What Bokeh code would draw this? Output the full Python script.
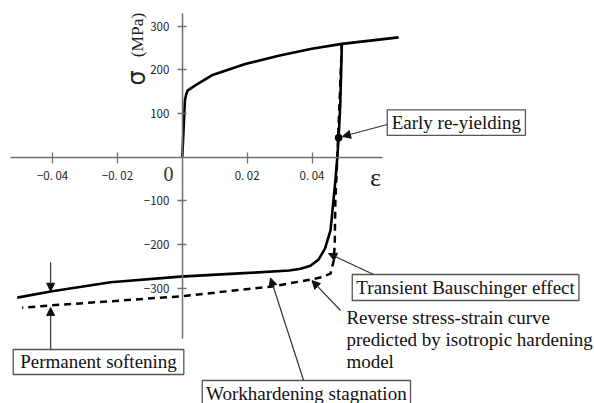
import math
from bokeh.plotting import figure
from bokeh.models import Range1d, FixedTicker, Arrow, NormalHead
from bokeh.core.properties import value
from bokeh.embed import file_html
from bokeh.resources import INLINE

# ---- data (strain, stress in MPa) ----
load_eps = [0.0, 0.0008, 0.0012, 0.0016, 0.0040, 0.0091, 0.0194, 0.0297, 0.0399, 0.0492, 0.0667]
load_sig = [0, 130, 143, 152, 164, 187, 213, 232, 248, 259, 274]

rev_eps = [0.0492, 0.0487, 0.0482, 0.0478, 0.0472, 0.0466, 0.0457, 0.0440, 0.0420,
           0.0395, 0.0365, 0.0330, 0.0190, -0.0006, -0.0221, -0.0406, -0.0509]
rev_sig = [259, 118, 44, 0, -54, -100, -168, -210, -235, -249, -256, -260, -266,
           -274, -287, -308, -322]

iso_eps = [0.0492, 0.0478, 0.0472, 0.0470, 0.0467, 0.0457, 0.0430, 0.0395, 0.0272,
           -0.0006, -0.0406, -0.0494]
iso_sig = [259, 0, -100, -200, -237, -267, -275, -281, -297, -319, -340, -345]

reyield_eps = [0.0482]
reyield_sig = [44]

x_ticks = [-0.04, -0.02, 0.02, 0.04]
x_tick_labels = ["\u22120. 04", "\u22120. 02", "0. 02", "0. 04"]
y_ticks = [-300, -200, -100, 100, 200, 300]
y_tick_labels = ["\u2212300", "\u2212200", "\u2212100", "100", "200", "300"]

W, H = 594, 403
p = figure(width=W, height=H, output_backend="svg", toolbar_location=None,
           x_range=Range1d(-0.05606, 0.12710), y_range=Range1d(-564.5, 358.4),
           min_border=0)
p.grid.visible = False
p.outline_line_color = None
p.background_fill_color = "white"

axis_col = "#707070"
p.xaxis.fixed_location = 0
p.yaxis.fixed_location = 0
p.xaxis.bounds = (-0.053, 0.0617)
p.yaxis.bounds = (-415.6, 328.6)
p.xaxis.ticker = FixedTicker(ticks=x_ticks)
p.yaxis.ticker = FixedTicker(ticks=y_ticks)
p.xaxis.major_label_overrides = {t: l for t, l in zip(x_ticks, x_tick_labels)}
p.yaxis.major_label_overrides = {t: l for t, l in zip(y_ticks, y_tick_labels)}
for ax in (p.xaxis, p.yaxis):
    ax.axis_line_color = axis_col
    ax.axis_line_width = 1.5
    ax.major_tick_line_color = axis_col
    ax.major_tick_line_width = 1.3
    ax.minor_tick_line_color = None
    ax.major_label_text_font = "Noto Sans CJK JP"
    ax.major_label_text_font_size = "11.5px"
    ax.major_label_text_color = "#222222"
p.xaxis.major_tick_in = 5
p.xaxis.major_tick_out = 6
p.xaxis.major_label_standoff = 4
p.yaxis.major_tick_in = 4
p.yaxis.major_tick_out = 5
p.yaxis.major_label_standoff = 8
p.yaxis.major_label_orientation = "horizontal"

# ---- curves ----
p.line(load_eps, load_sig, line_color="black", line_width=2.6, line_join="round")
p.line(iso_eps, iso_sig, line_color="black", line_width=2.5, line_dash="7 5")
p.line(rev_eps, rev_sig, line_color="black", line_width=2.6, line_join="round")
p.scatter(reyield_eps, reyield_sig, size=7, color="black")

serif = value("Liberation Serif")
fs = value("19px")

# ---- axis labels ----
p.text(x=[-0.01397], y=[180.9], text=["\u03c3"], angle=math.pi / 2,
       text_font=value("DejaVu Sans"), text_font_size=value("24px"),
       text_align="center", text_baseline="middle", text_color="#222222")
p.text(x=[-0.01412], y=[279.4], text=["(MPa)"], angle=math.pi / 2,
       text_font=serif, text_font_size=value("17.5px"),
       text_align="center", text_baseline="middle", text_color="#222222")
p.text(x=[0.05957], y=[-45.8], text=["\u03b5"], text_font=serif,
       text_font_size=value("26px"), text_align="center", text_baseline="middle",
       text_color="#222222")
p.text(x=[-0.00426], y=[-38.9], text=["0"], text_font=serif,
       text_font_size=value("20px"), text_align="center", text_baseline="middle",
       text_color="#333333")

# ---- annotation boxes ----
box_l = [0.0632, 0.0524, -0.05214, 0.00614]
box_r = [0.1058, 0.1223, 0.00046, 0.07037]
box_t = [108.1, -269.1, -440.8, -511.8]
box_b = [49.4, -328.6, -498.1, -600.0]
p.quad(left=box_l, right=box_r, top=box_t, bottom=box_b, fill_color="white",
       line_color="#555555", line_width=1.3)

box_text = ["Early re-yielding", "Transient Bauschinger effect",
            "Permanent softening", "Workhardening stagnation"]
tx = [(a + b) / 2 for a, b in zip(box_l, box_r)]
ty = [79.0, -298.8, -469.4, -540.9]
p.text(x=tx, y=ty, text=box_text, text_font=serif, text_font_size=fs,
       text_align="center", text_baseline="middle", text_color="#111111")

rev_lines = ["Reverse stress-strain curve", "predicted by isotropic hardening", "model"]
p.text(x=[0.0506] * 3, y=[-367.5, -417.9, -468.3], text=rev_lines, text_font=serif,
       text_font_size=fs, text_align="left", text_baseline="middle",
       text_color="#111111")

# ---- arrows ----
arrows = [
    (0.0632, 74.4, 0.0494, 47.0),
    (0.0590, -269.0, 0.0451, -221.0),
    (0.0488, -351.5, 0.0400, -283.0),
    (0.0374, -511.8, 0.0272, -277.0),
    (-0.0406, -240.9, -0.0406, -307.3),
    (-0.0406, -440.8, -0.0406, -344.6),
]
for xs, ys, xe, ye in arrows:
    p.add_layout(Arrow(x_start=xs, y_start=ys, x_end=xe, y_end=ye,
                       line_color="#333333", line_width=1.2,
                       end=NormalHead(size=8, fill_color="#111111",
                                      line_color="#111111", line_width=1)))

open("out.html", "w").write(file_html(p, INLINE))
